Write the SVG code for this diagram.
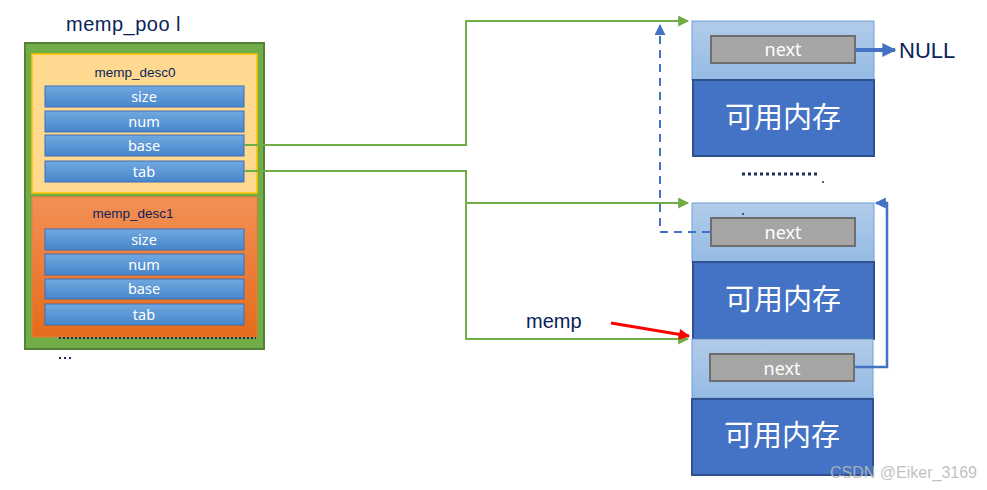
<svg xmlns="http://www.w3.org/2000/svg" width="987" height="490" viewBox="0 0 987 490">
<defs>
<linearGradient id="gField" x1="0" y1="0" x2="0" y2="1"><stop offset="0" stop-color="#71A9E0"/><stop offset="1" stop-color="#4786CB"/></linearGradient>
<linearGradient id="gDesc1" x1="0" y1="0" x2="0" y2="1"><stop offset="0" stop-color="#F39056"/><stop offset="1" stop-color="#E46C1B"/></linearGradient>
<linearGradient id="gHead" x1="0" y1="0" x2="0" y2="1"><stop offset="0" stop-color="#B2CBEA"/><stop offset="1" stop-color="#95BBE4"/></linearGradient>
<marker id="aG" viewBox="0 0 10 10" refX="9" refY="5" markerWidth="12" markerHeight="11" orient="auto" markerUnits="userSpaceOnUse"><path d="M0,0 L10,5 L0,10 z" fill="#70AD47"/></marker>
<marker id="aB" viewBox="0 0 10 10" refX="9" refY="5" markerWidth="12" markerHeight="11" orient="auto" markerUnits="userSpaceOnUse"><path d="M0,0 L10,5 L0,10 z" fill="#4472C4"/></marker>
<marker id="aBig" viewBox="0 0 10 10" refX="9" refY="5" markerWidth="15" markerHeight="14" orient="auto" markerUnits="userSpaceOnUse"><path d="M0,0 L10,5 L0,10 z" fill="#4472C4"/></marker>
<marker id="aR" viewBox="0 0 10 10" refX="9" refY="5" markerWidth="12" markerHeight="11" orient="auto" markerUnits="userSpaceOnUse"><path d="M0,0 L10,5 L0,10 z" fill="#FF0000"/></marker>
</defs>
<style>
.lbl{font-family:"Liberation Sans",Arial,sans-serif;fill:#0B2359}
.field{fill:url(#gField);stroke:#3F6FB5;stroke-width:1}
.ft{font-family:"Noto Sans","Liberation Sans",sans-serif;font-size:14.5px;fill:#fff;text-anchor:middle}
.head{fill:url(#gHead);stroke:#6FA0D8;stroke-width:1}
.next{fill:#A5A5A5;stroke:#6E6E6E;stroke-width:2}
.nt{font-family:"Noto Sans","Liberation Sans",sans-serif;font-size:18px;fill:#fff;text-anchor:middle}
.mem{fill:#4472C4;stroke:#2F528F;stroke-width:2}
.mt{font-family:"Noto Sans CJK SC","Noto Sans",sans-serif;font-size:29px;fill:#fff;text-anchor:middle}
.g{fill:none;stroke:#70AD47;stroke-width:2}
</style>
<text class="lbl" x="66" y="31" font-size="20" letter-spacing="0.5">memp_poo l</text>
<g id="memp_pool">
<rect x="25" y="43" width="239" height="306" fill="#70AD47" stroke="#548235" stroke-width="2"/>
</g>
<g id="memp_desc0">
<rect x="32" y="54" width="225" height="139" fill="#FFD98F" stroke="#FFC000" stroke-width="1.5"/>
<text class="lbl" x="135" y="77" font-size="13.5" text-anchor="middle">memp_desc0</text>
<rect class="field" x="45" y="86" width="199" height="21"/><text class="ft" x="144" y="102">size</text>
<rect class="field" x="45" y="111" width="199" height="21"/><text class="ft" x="144" y="127">num</text>
<rect class="field" x="45" y="135" width="199" height="21"/><text class="ft" x="144" y="151">base</text>
<rect class="field" x="45" y="161" width="199" height="21"/><text class="ft" x="144" y="177">tab</text>
</g>
<g id="memp_desc1">
<rect x="32" y="197" width="225" height="140" fill="url(#gDesc1)" stroke="#ED7D31" stroke-width="1"/>
<text class="lbl" x="133" y="218" font-size="13.5" text-anchor="middle">memp_desc1</text>
<rect class="field" x="45" y="229" width="199" height="21"/><text class="ft" x="144" y="245">size</text>
<rect class="field" x="45" y="254" width="199" height="21"/><text class="ft" x="144" y="270">num</text>
<rect class="field" x="45" y="279" width="199" height="20"/><text class="ft" x="144" y="294">base</text>
<rect class="field" x="45" y="304" width="199" height="21"/><text class="ft" x="144" y="320">tab</text>
</g>
<line x1="59" y1="338" x2="256" y2="338" stroke="#1F2D5A" stroke-width="2" stroke-dasharray="2,2"/>
<g fill="#1F2D5A"><rect x="59" y="357" width="2" height="2"/><rect x="64" y="357" width="2" height="2"/><rect x="69" y="357" width="2" height="2"/></g>

<g id="block1">
<rect class="head" x="692" y="21" width="182" height="59"/>
<rect class="next" x="711" y="36" width="144" height="27"/><text class="nt" x="783" y="56">next</text>
<rect class="mem" x="693" y="80" width="181" height="76"/><text class="mt" x="783" y="128">可用内存</text>
</g>
<g id="block2">
<rect class="head" x="692" y="203" width="182" height="59"/>
<rect class="next" x="711" y="218" width="144" height="28"/><text class="nt" x="783" y="239">next</text>
<rect class="mem" x="693" y="262" width="181" height="77"/><text class="mt" x="783" y="310">可用内存</text>
</g>
<g id="block3">
<rect class="head" x="692" y="339" width="181" height="59"/>
<rect class="next" x="710" y="354" width="144" height="27"/><text class="nt" x="782" y="375">next</text>
<rect class="mem" x="692" y="399" width="181" height="76"/><text class="mt" x="782" y="446">可用内存</text>
</g>
<line x1="742" y1="174" x2="818" y2="174" stroke="#1F2D5A" stroke-width="3" stroke-dasharray="3,3"/>
<circle cx="823" cy="182" r="1" fill="#1F2D5A"/>
<circle cx="743" cy="214" r="1" fill="#1F2D5A"/>
<text class="lbl" x="899" y="58" font-size="22">NULL</text>
<text class="lbl" x="526" y="328" font-size="20">memp</text>

<g id="connectors">
<path class="g" d="M244,145 H466 V21 H688" marker-end="url(#aG)"/>
<path class="g" d="M244,171 H466 V339 H688" marker-end="url(#aG)"/>
<path class="g" d="M466,203 H688" marker-end="url(#aG)"/>
<path d="M710,232 H660 V25" fill="none" stroke="#4472C4" stroke-width="2" stroke-dasharray="8,6" marker-end="url(#aB)"/>
<path d="M855,367 H887 V203 H876" fill="none" stroke="#4472C4" stroke-width="2.5" marker-end="url(#aB)"/>
<path d="M856,50 H895" fill="none" stroke="#4472C4" stroke-width="4" marker-end="url(#aBig)"/>
<path d="M611,323 L689,336" fill="none" stroke="#FF0000" stroke-width="3" marker-end="url(#aR)"/>
</g>
<text x="830" y="478" font-family="Liberation Sans,Arial,sans-serif" font-size="16" fill="#B8B8B8" fill-opacity="0.9">CSDN @Eiker_3169</text>
</svg>
